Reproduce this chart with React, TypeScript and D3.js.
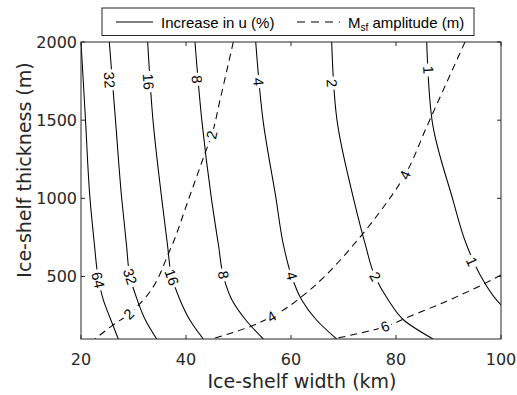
import React from 'react';
import * as d3 from 'd3';

// ---------- data (width W in km, thickness H in m) ----------
const widthTicks = [20, 40, 60, 80, 100];
const thicknessTicks = [500, 1000, 1500, 2000];

// Increase in u (%) contours
const u64 = [[20.0, 2000], [20.86, 1500], [21.71, 1000], [22.57, 700], [23.24, 500], [24.25, 350], [25.71, 220], [27.1, 100]];
const u32 = [[25.39, 2000], [26.57, 1500], [27.75, 1000], [28.67, 700], [29.33, 500], [30.72, 350], [32.29, 220], [34.42, 100]];
const u16 = [[32.7, 2000], [33.71, 1500], [35.37, 1000], [36.48, 700], [37.28, 500], [38.86, 350], [40.76, 220], [43.3, 100]];
const u8 = [[41.71, 2000], [43.01, 1500], [44.84, 1000], [46.19, 700], [47.14, 500], [48.76, 350], [51.43, 220], [54.72, 100]];
const u4 = [[53.28, 2000], [54.67, 1500], [57.14, 1000], [58.57, 700], [60.13, 500], [62.04, 350], [64.9, 220], [68.7, 100]];
const u2 = [[67.75, 2000], [68.76, 1500], [71.9, 1000], [74.19, 700], [76.0, 500], [78.53, 350], [81.52, 220], [87.05, 100]];
const u1 = [[85.85, 2000], [86.86, 1500], [90.76, 1000], [93.47, 700], [96.19, 500], [99.14, 350], [100, 318]];

// Msf amplitude (m) contours
const m2 = [[22.67, 100], [26.13, 190], [29.14, 260], [31.87, 350], [36.95, 669], [40.44, 989], [43.62, 1288], [44.9, 1405], [46.48, 1629], [49.01, 2000]];
const m4 = [[44.88, 100], [52.19, 179], [56.32, 243], [60.0, 318], [62.04, 371], [73.47, 765], [76.95, 914], [81.71, 1149], [85.85, 1458], [93.14, 2000]];
const m6 = [[68.0, 100], [77.9, 179], [81.71, 232], [89.33, 337], [96.95, 456], [100, 510]];

// label positions
const u64Labels = [[23.24, 477]];
const u32Labels = [[25.39, 1757], [29.33, 499]];
const u16Labels = [[32.82, 1746], [37.28, 495]];
const u8Labels = [[42.04, 1761], [47.1, 510]];
const u4Labels = [[53.77, 1746], [60.13, 503]];
const u2Labels = [[67.75, 1736], [76.0, 499]];
const u1Labels = [[86.15, 1821], [94.42, 595]];
const m2Labels = [[44.9, 1405], [29.14, 260]];
const m4Labels = [[81.71, 1149], [56.32, 243]];
const m6Labels = [[77.9, 179]];

const contours = [
  { id: 'u64', text: '64', pts: u64, labels: u64Labels, dashed: false },
  { id: 'u32', text: '32', pts: u32, labels: u32Labels, dashed: false },
  { id: 'u16', text: '16', pts: u16, labels: u16Labels, dashed: false },
  { id: 'u8', text: '8', pts: u8, labels: u8Labels, dashed: false },
  { id: 'u4', text: '4', pts: u4, labels: u4Labels, dashed: false },
  { id: 'u2', text: '2', pts: u2, labels: u2Labels, dashed: false },
  { id: 'u1', text: '1', pts: u1, labels: u1Labels, dashed: false },
  { id: 'm2', text: '2', pts: m2, labels: m2Labels, dashed: true },
  { id: 'm4', text: '4', pts: m4, labels: m4Labels, dashed: true },
  { id: 'm6', text: '6', pts: m6, labels: m6Labels, dashed: true },
];

const W = 517, H = 395;
const X0 = 81, X1 = 501, Y0 = 42, Y1 = 339;
const AX = '#262626';
const LABEL_FS = 14.5;

function angleAt(pp: number[][], px: number, py: number) {
  let best = Infinity, ang = 0;
  for (let i = 0; i < pp.length - 1; i++) {
    const [ax, ay] = pp[i], [bx, by] = pp[i + 1];
    const dx = bx - ax, dy = by - ay;
    const L = dx * dx + dy * dy;
    let t = L > 0 ? ((px - ax) * dx + (py - ay) * dy) / L : 0;
    t = Math.max(0, Math.min(1, t));
    const cx = ax + t * dx, cy = ay + t * dy;
    const d = (px - cx) ** 2 + (py - cy) ** 2;
    if (d < best) { best = d; ang = Math.atan2(dy, dx) * 180 / Math.PI; }
  }
  if (ang > 90) ang -= 180;
  if (ang < -90) ang += 180;
  return ang;
}

export default function App() {
  const x = d3.scaleLinear().domain([20, 100]).range([X0, X1]);
  const y = d3.scaleLinear().domain([100, 2000]).range([Y1, Y0]);
  const line = d3.line<number[]>().x(d => x(d[0])).y(d => y(d[1])).curve(d3.curveMonotoneY);

  const prepared = contours.map(c => {
    const sorted = [...c.pts].sort((a, b) => b[1] - a[1]);
    const pp = sorted.map(p => [x(p[0]), y(p[1])]);
    const labs = c.labels.map(l => {
      const px = x(l[0]), py = y(l[1]);
      return { px, py, ang: angleAt(pp, px, py) };
    });
    return { ...c, sorted, labs };
  });

  const tick = 4;
  return (
    <svg width={W} height={H} style={{ position: 'absolute', left: 0, top: 0, background: '#fff' }}
      xmlns="http://www.w3.org/2000/svg">
      <defs>
        <clipPath id="plot"><rect x={X0} y={Y0} width={X1 - X0} height={Y1 - Y0} /></clipPath>
        {prepared.map(c => (
          <mask id={'mk-' + c.id} key={c.id} maskUnits="userSpaceOnUse" x={0} y={0} width={W} height={H}>
            <rect x={0} y={0} width={W} height={H} fill="#fff" />
            {c.labs.map((l, i) => {
              const tw = c.text.length * 0.556 * LABEL_FS + 5;
              const th = LABEL_FS * 0.9;
              return (
                <rect key={i} x={-tw / 2} y={-th / 2} width={tw} height={th} fill="#000"
                  transform={`translate(${l.px},${l.py}) rotate(${l.ang})`} />
              );
            })}
          </mask>
        ))}
      </defs>
      <rect x={0} y={0} width={W} height={H} fill="#fff" />

      {/* contour lines */}
      <g clipPath="url(#plot)">
        {prepared.map(c => (
          <path key={c.id} d={line(c.sorted) || ''} fill="none" stroke="#000" strokeWidth={1.05}
            strokeDasharray={c.dashed ? '7,5' : undefined} mask={`url(#mk-${c.id})`} />
        ))}
      </g>
      {/* contour labels */}
      <g fontFamily="'Liberation Sans', Arial, sans-serif" fontSize={LABEL_FS} fill="#000">
        {prepared.map(c => c.labs.map((l, i) => (
          <text key={c.id + i} textAnchor="middle" dominantBaseline="central"
            transform={`translate(${l.px},${l.py}) rotate(${l.ang})`}>{c.text}</text>
        )))}
      </g>

      {/* axes box */}
      <rect x={X0} y={Y0} width={X1 - X0} height={Y1 - Y0} fill="none" stroke={AX} strokeWidth={1} />
      {widthTicks.map(t => (
        <g key={'xt' + t} stroke={AX} strokeWidth={1}>
          <line x1={x(t)} x2={x(t)} y1={Y1} y2={Y1 - tick} />
          <line x1={x(t)} x2={x(t)} y1={Y0} y2={Y0 + tick} />
        </g>
      ))}
      {thicknessTicks.map(t => (
        <g key={'yt' + t} stroke={AX} strokeWidth={1}>
          <line x1={X0} x2={X0 + tick} y1={y(t)} y2={y(t)} />
          <line x1={X1} x2={X1 - tick} y1={y(t)} y2={y(t)} />
        </g>
      ))}
      <g fontFamily="'DejaVu Sans', Verdana, sans-serif" fontSize={16} fill={AX}>
        {widthTicks.map(t => (
          <text key={'xl' + t} x={x(t)} y={365} textAnchor="middle">{t}</text>
        ))}
        {thicknessTicks.map(t => (
          <text key={'yl' + t} x={X0 - 4} y={y(t) + 5.8} textAnchor="end">{t}</text>
        ))}
        <text x={302} y={388} textAnchor="middle" fontSize={19}>Ice-shelf width (km)</text>
        <text transform="translate(31,170) rotate(-90)" textAnchor="middle" fontSize={19}>Ice-shelf thickness (m)</text>
      </g>

      {/* legend */}
      <g>
        <rect x={102} y={8} width={372} height={27.5} fill="#fff" stroke={AX} strokeWidth={1} />
        <line x1={116} x2={153} y1={22} y2={22} stroke="#000" strokeWidth={1.05} />
        <line x1={297} x2={340} y1={22} y2={22} stroke="#000" strokeWidth={1.05} strokeDasharray="8,6" />
        <g fontFamily="'Liberation Sans', Arial, sans-serif" fontSize={15} fill="#000">
          <text x={161} y={27.5}>Increase in u (%)</text>
          <text x={348} y={27.5}>M<tspan fontSize={10} dy={3}>sf</tspan><tspan dy={-3}> amplitude (m)</tspan></text>
        </g>
      </g>
    </svg>
  );
}
